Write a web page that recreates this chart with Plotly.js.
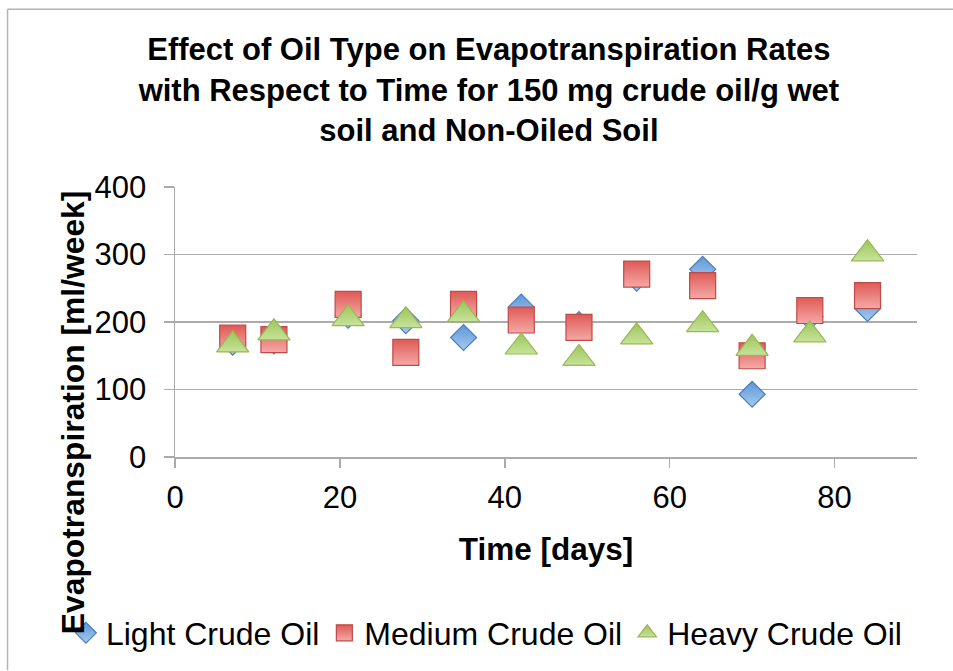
<!DOCTYPE html>
<html>
<head>
<meta charset="utf-8">
<script src="https://cdn.plot.ly/plotly-3.0.1.min.js"></script>
<style>html,body{margin:0;padding:0;background:#fff;}#chart{width:953px;height:671px;}</style>
</head>
<body>
<div id="chart"></div>
<script>
const days = [7, 12, 21, 28, 35, 42, 49, 56, 64, 70, 77, 84];
const lightCrude = [170, 172, 210, 202, 177, 222, 196, 265, 278, 93, 208, 220];
const mediumCrude = [176, 174, 226, 155, 226, 203, 192, 271, 254, 150, 217, 239];
const heavyCrude = [166, 184, 205, 202, 211, 163, 146, 178, 196, 161, 181, 301];
const seriesNames = ["Light Crude Oil", "Medium Crude Oil", "Heavy Crude Oil"];
const xTicks = [0, 20, 40, 60, 80];
const yTicks = [0, 100, 200, 300, 400];

const FONT = "Liberation Sans, Arial, Helvetica, sans-serif";

const traces = [
  {
    x: days, y: lightCrude, name: seriesNames[0], type: "scatter", mode: "markers",
    marker: {symbol: "diamond", size: 20, color: "#5D97D6",
      gradient: {type: "vertical", color: "#A6CAF0"},
      line: {color: "#4A7EBB", width: 1.2}}
  },
  {
    x: days, y: mediumCrude, name: seriesNames[1], type: "scatter", mode: "markers",
    marker: {symbol: "square", size: 26, color: "#DE5A55",
      gradient: {type: "vertical", color: "#F6A9A6"},
      line: {color: "#BE4B48", width: 1.2}}
  },
  {
    x: days, y: heavyCrude, name: seriesNames[2], type: "scatter", mode: "markers",
    marker: {symbol: "triangle-up", size: 28, color: "#9CC45A",
      gradient: {type: "vertical", color: "#C7E39A"},
      line: {color: "#98B954", width: 1.2}}
  }
];

const gray = "#ABABAB";
const layout = {
  width: 953, height: 671,
  margin: {l: 175, r: 36, t: 187, b: 213},
  paper_bgcolor: "#fff", plot_bgcolor: "#fff",
  font: {family: FONT, size: 31, color: "#000"},
  showlegend: true,
  title: {
    text: "<b>Effect of Oil Type on Evapotranspiration Rates<br>with Respect to Time for 150 mg crude oil/g wet<br>soil and Non-Oiled Soil</b>",
    font: {family: FONT, size: 31, color: "#000"},
    xref: "container", x: 0.513, xanchor: "center",
    yref: "container", y: 0.91, yanchor: "top"
  },
  xaxis: {
    range: [0, 90], tickvals: xTicks, ticktext: xTicks.map(String),
    showgrid: false, zeroline: false,
    showline: true, linecolor: gray, linewidth: 1.5,
    ticks: "outside", ticklen: 9, tickcolor: gray, tickwidth: 1.5,
    ticklabelstandoff: 3,
    tickfont: {family: FONT, size: 31, color: "#000"},
    title: {text: "<b>Time [days]</b>", font: {family: FONT, size: 31.5, color: "#000"}, standoff: 24}
  },
  yaxis: {
    range: [0, 400], tickvals: yTicks, ticktext: yTicks.map(String),
    showgrid: true, gridcolor: gray, gridwidth: 1.5,
    zeroline: false,
    showline: true, linecolor: gray, linewidth: 1.5,
    ticks: "outside", ticklen: 10, tickcolor: gray, tickwidth: 1.5,
    ticklabelstandoff: 11,
    tickfont: {family: FONT, size: 31, color: "#000"}
  },
  legend: {
    orientation: "h", x: -0.147, xanchor: "left", y: -0.6458, yanchor: "middle",
    font: {family: FONT, size: 32, color: "#000"},
    bgcolor: "rgba(0,0,0,0)", itemclick: false
  },
  annotations: [{
    text: "<b>Evapotranspiration [ml/week]</b>",
    textangle: -90, showarrow: false,
    xref: "paper", yref: "paper", x: -0.1375, y: 0.166,
    xanchor: "center", yanchor: "middle",
    font: {family: FONT, size: 31.8, color: "#000"}
  }],
  shapes: [
    {type: "line", xref: "paper", yref: "paper", x0: -0.2257, x1: 1.0485, y0: 1.6587, y1: 1.6587, line: {color: "#B3B3B3", width: 1.5}},
    {type: "line", xref: "paper", yref: "paper", x0: -0.2257, x1: -0.2257, y0: 1.6587, y1: -0.79, line: {color: "#B3B3B3", width: 1.5}}
  ]
};

Plotly.newPlot("chart", traces, layout, {staticPlot: true, displayModeBar: false});
</script>
</body>
</html>
